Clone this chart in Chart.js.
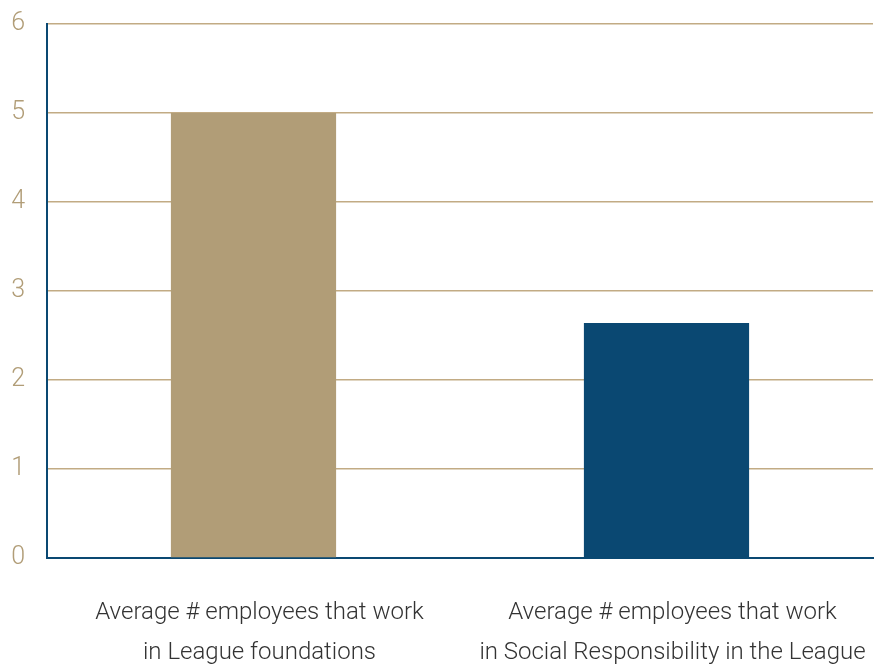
<!DOCTYPE html>
<html>
<head>
<meta charset="utf-8">
<style>
  html, body { margin: 0; padding: 0; background: #fff; }
  #wrap { width: 885px; height: 667px; }
</style>
<script src="https://cdn.jsdelivr.net/npm/chart.js@4/dist/chart.umd.min.js"></script>
</head>
<body>
<div id="wrap"><canvas id="myChart" width="885" height="667"></canvas></div>
<script>
let labels1 = [
  ['Average # employees that work', 'in League foundations'],
  ['Average # employees that work', 'in Social Responsibility in the League']
];
let data1 = [5, 2.64];
let colors1 = ['#b19d77', '#0a4872'];
let yTicks = [0, 1, 2, 3, 4, 5, 6];

let ctx1 = document.getElementById('myChart').getContext('2d');
let chart1 = new Chart(ctx1, {
  type: 'bar',
  data: {
    labels: labels1,
    datasets: [{
      data: data1,
      backgroundColor: colors1,
      borderWidth: 0,
      barPercentage: 0.4,
      categoryPercentage: 1
    }]
  },
  options: {
    responsive: false,
    animation: false,
    layout: { padding: { top: 24, right: 12, left: 0, bottom: 0 } },
    plugins: {
      legend: { display: false },
      tooltip: { enabled: false }
    },
    scales: {
      x: {
        grid: { display: false, drawTicks: false },
        border: { color: '#0a4872', width: 2 },
        ticks: {
          color: '#333',
          font: { family: 'Roboto', size: 24, weight: 300, lineHeight: '40px' },
          padding: 35,
          labelOffset: 6,
          maxRotation: 0
        },
        afterFit: function (scale) {
          scale.height = 109;
          scale.paddingLeft = 0;
          scale.paddingRight = 0;
        }
      },
      y: {
        min: yTicks[0],
        max: yTicks[yTicks.length - 1],
        afterBuildTicks: function (scale) {
          scale.ticks = yTicks.map(function (v) { return { value: v }; });
        },
        grid: { color: '#c2ab84', lineWidth: 1.5, drawTicks: false },
        border: { color: '#0a4872', width: 2 },
        ticks: {
          color: '#b19d77',
          font: { family: 'Roboto', size: 25, weight: 300 },
          padding: 22
        },
        afterFit: function (scale) {
          scale.width = 47;
          scale.paddingTop = 0;
          scale.paddingBottom = 0;
        }
      }
    }
  }
});
</script>
</body>
</html>
